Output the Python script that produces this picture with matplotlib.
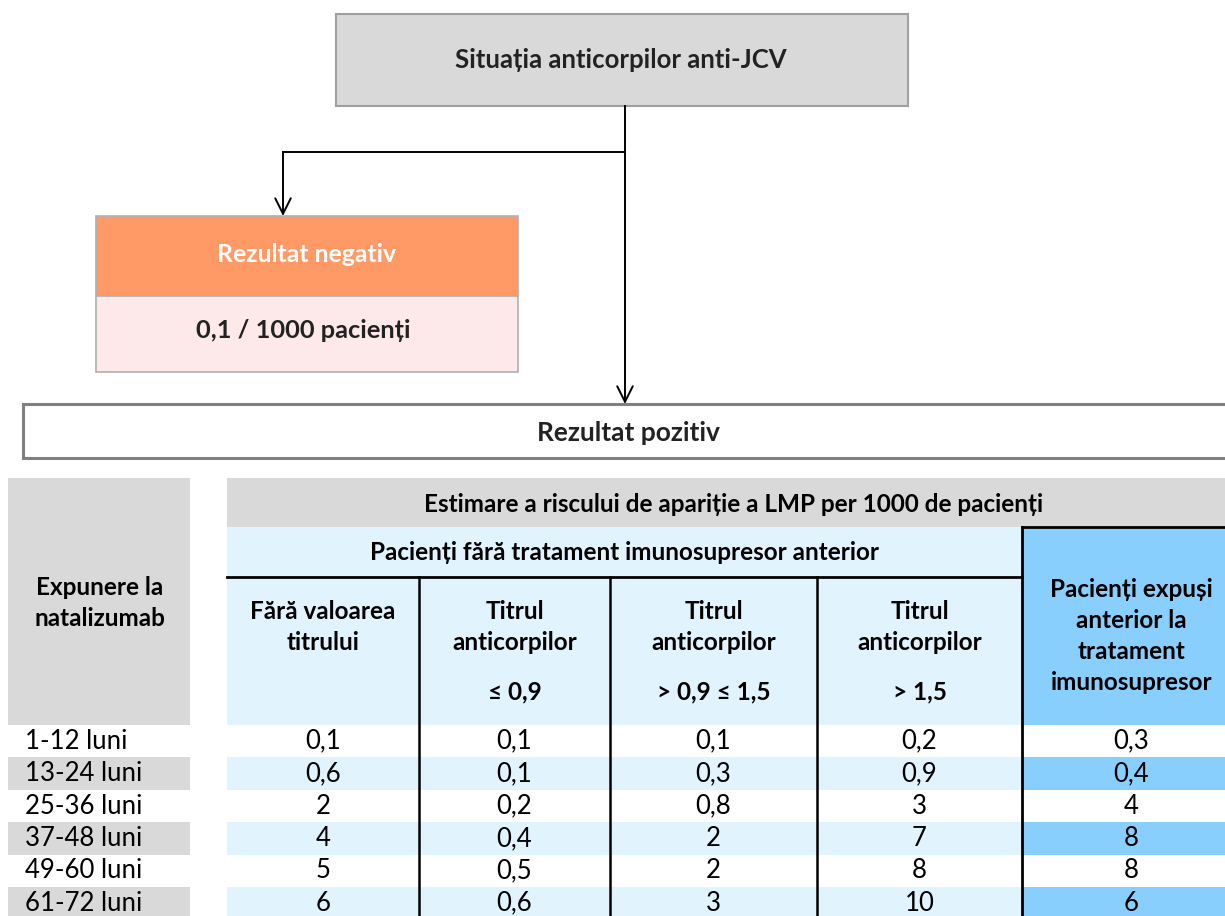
# Flowchart + risk table for anti-JCV antibody status (natalizumab)
import matplotlib
matplotlib.use("Agg")
import matplotlib.pyplot as plt
from matplotlib.patches import Rectangle

plt.rcParams['font.family'] = ['Lato', 'DejaVu Sans']

# ---- data ----
top_label = "Situația anticorpilor anti-JCV"
neg_label = "Rezultat negativ"
neg_value = "0,1 / 1000 pacienți"
pos_label = "Rezultat pozitiv"

table_title = "Estimare a riscului de apariție a LMP per 1000 de pacienți"
group_left = "Pacienți fără tratament imunosupresor anterior"
row_header = "Expunere la\nnatalizumab"
col_headers = ["Fără valoarea\ntitrului", "Titrul\nanticorpilor", "Titrul\nanticorpilor",
               "Titrul\nanticorpilor"]
col_thresholds = ["", "≤ 0,9", "> 0,9 ≤ 1,5", "> 1,5"]
col_exposed = "Pacienți expuși\nanterior la\ntratament\nimunosupresor"

exposure = ["1-12 luni", "13-24 luni", "25-36 luni", "37-48 luni", "49-60 luni", "61-72 luni"]
no_titre = ["0,1", "0,6", "2", "4", "5", "6"]
titre_low = ["0,1", "0,1", "0,2", "0,4", "0,5", "0,6"]
titre_mid = ["0,1", "0,3", "0,8", "2", "2", "3"]
titre_high = ["0,2", "0,9", "3", "7", "8", "10"]
exposed_is = ["0,3", "0,4", "4", "8", "8", "6"]

# ---- colours ----
GRAY = "#d9d9d9"
LBLUE = "#e1f3fd"
SKY = "#89cffd"
ORANGE = "#ff9966"
PINK = "#fde9e9"

fig = plt.figure(figsize=(12.25, 9.16), dpi=100)
ax = fig.add_axes([0, 0, 1, 1])
ax.set_xlim(0, 1225)
ax.set_ylim(916, 0)
ax.axis("off")


def box(x0, y0, x1, y1, fc, ec=None, lw=0, z=1):
    ax.add_patch(Rectangle((x0, y0), x1 - x0, y1 - y0, facecolor=fc,
                           edgecolor=ec if ec else fc, linewidth=lw, zorder=z))


def arrow(x, y0, y1):
    ax.annotate("", xy=(x, y1), xytext=(x, y0),
                arrowprops=dict(arrowstyle="->", color="black", lw=1.4,
                                mutation_scale=28, shrinkA=0, shrinkB=0), zorder=5)


# ---- flowchart ----
box(336, 14, 908, 106, GRAY, "#a0a0a0", 1.5)
ax.text(621, 60, top_label, ha="center", va="center", fontsize=18.5, fontweight="bold",
        color="#222222")

ax.plot([625, 625], [106, 152], color="black", lw=1.4, zorder=4)
ax.plot([625, 283], [152, 152], color="black", lw=1.4, zorder=4)
arrow(283, 152, 216)
arrow(625, 152, 404)

box(96, 216, 518, 296, ORANGE, "#b0b0b0", 1.2)
box(96, 296, 518, 372, PINK, "#b0b0b0", 1.2)
ax.text(307, 254, neg_label, ha="center", va="center", fontsize=17.8, fontweight="bold",
        color="white")
ax.text(303, 330, neg_value, ha="center", va="center", fontsize=18.3, fontweight="bold",
        color="#222222")

box(23, 404, 1240, 458, "white", "#808080", 2.2)
ax.text(628, 433, pos_label, ha="center", va="center", fontsize=19, fontweight="bold",
        color="#222222")

# ---- table ----
col_edges = [227, 419, 610, 817, 1022, 1225]
col_mid = [(a + b) / 2 for a, b in zip(col_edges[:-1], col_edges[1:])]
row_top = 725
row_h = 32.4

box(8, 478, 190, 725, GRAY)
box(227, 478, 1225, 527, GRAY)
box(227, 527, 1022, 725, LBLUE)
box(1022, 527, 1225, 725, SKY)

fb = 17.5   # bold header size
fr = 18.5   # regular cell size
ax.text(100, 603, row_header, ha="center", va="center", fontsize=fb, fontweight="bold",
        linespacing=1.42)
ax.text(734, 505, table_title, ha="center", va="center", fontsize=fb, fontweight="bold")
ax.text(624, 553, group_left, ha="center", va="center", fontsize=fb, fontweight="bold")
for i, (h, t) in enumerate(zip(col_headers, col_thresholds)):
    ax.text(col_mid[i], 627, h, ha="center", va="center", fontsize=fb, fontweight="bold",
            linespacing=1.42)
    if t:
        ax.text(col_mid[i], 692, t, ha="center", va="center", fontsize=fb, fontweight="bold")
ax.text(col_mid[4] + 8, 636, col_exposed, ha="center", va="center", fontsize=fb,
        fontweight="bold", linespacing=1.42)

columns = [no_titre, titre_low, titre_mid, titre_high, exposed_is]
for r, label in enumerate(exposure):
    y0 = row_top + r * row_h
    yc = y0 + row_h / 2
    if r % 2 == 1:
        box(8, y0, 190, y0 + row_h, GRAY)
        box(227, y0, 1022, y0 + row_h, LBLUE)
        box(1022, y0, 1225, y0 + row_h, SKY)
    ax.text(25, yc, label, ha="left", va="center", fontsize=fr)
    for c, vals in enumerate(columns):
        ax.text(col_mid[c] + (8 if c == 4 else 0), yc, vals[r], ha="center",
                va="center", fontsize=fr)

# black grid lines
ax.plot([227, 1022], [577, 577], color="black", lw=2, zorder=6)
ax.plot([1022, 1225], [527, 527], color="black", lw=2, zorder=6)
for x in col_edges[1:4]:
    ax.plot([x, x], [577, 916], color="black", lw=1.8, zorder=6)
ax.plot([1022, 1022], [527, 916], color="black", lw=2, zorder=6)

fig.savefig("out.png", dpi=100)
